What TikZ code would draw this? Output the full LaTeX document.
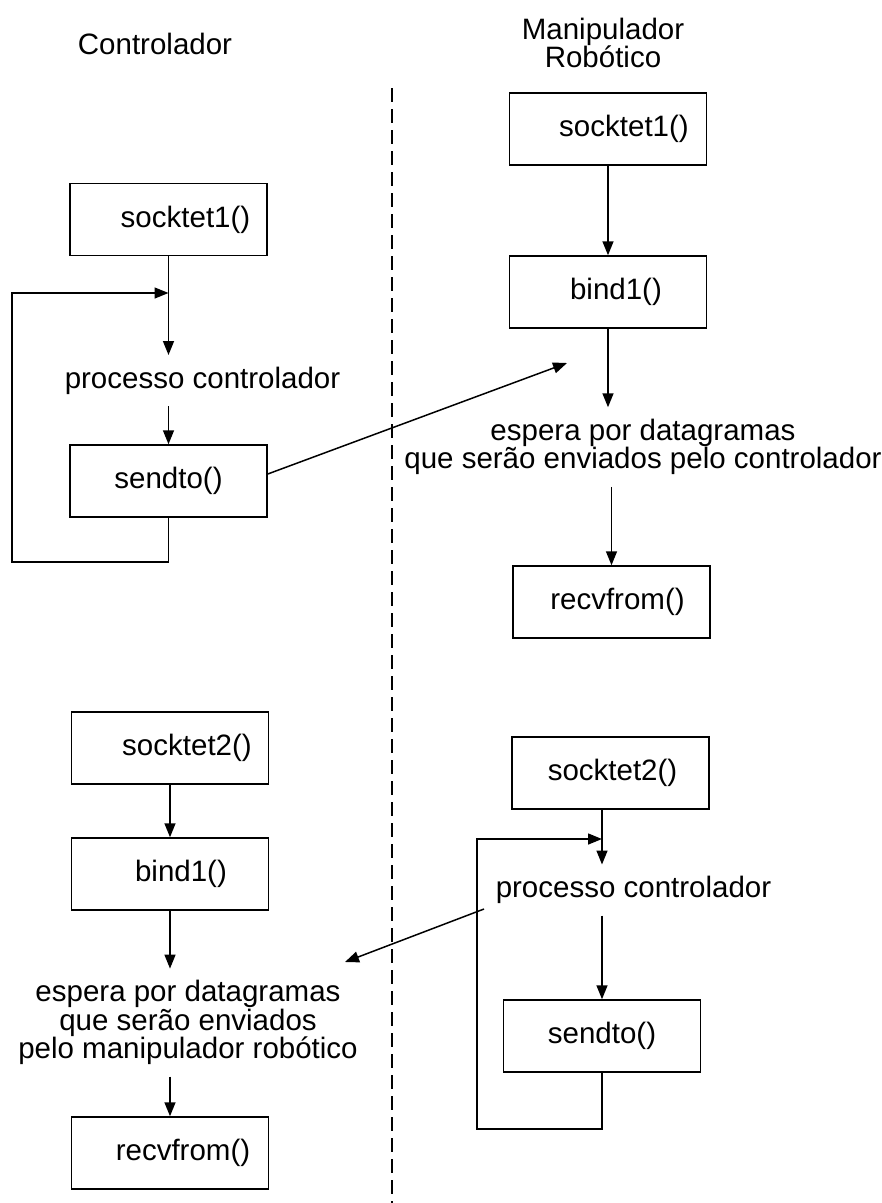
\documentclass[tikz,border=0pt]{standalone}
\usepackage{fontspec}
\setmainfont{Liberation Sans}
\usetikzlibrary{arrows.meta, positioning}
\tikzset{%
	funcbox/.style={
		rectangle,
		draw,
		minimum width=197pt,
		minimum height=72pt,
		inner sep=0pt
	},
	msg/.style={
		inner sep=11pt,
		align=center
	},
}

\begin{document}
\begin{tikzpicture}[
			x=1pt, y=-1pt,
			font=\fontsize{29.5}{28.5}\selectfont,
			line width=1.5pt,
			>={Triangle[length=14pt,width=11pt]}
			]
			\useasboundingbox (0,0) rectangle (882,1203);
			\node (ctrl) at (155,44) {Controlador};
			\node[align=center] (manip) at (603,43) {Manipulador\\Robótico};
			\coordinate (divtop) at (392,88);
			\coordinate (divbot) at (392,1203);
			\draw[dash pattern=on 14pt off 7pt] (divtop) -- (divbot);

			\node[funcbox] (sockL) at (168.5,219.5) {\hspace*{34pt}socktet1()};
			\node[msg] (procL) at (202.5,380.5) {processo controlador};
			\node[funcbox] (sendL) at (168.5,481) {sendto()};
			\coordinate (loopL) at (12,293);
			\coordinate (cornerL) at (12,562);
			\coordinate (tipR) at (567,363);
			\draw[->] (sockL.south) -- (sockL.south |- procL.north);
			\draw[->] (sendL.north |- procL.south) -- (sendL.north);
			\draw[->] (sendL.south) |- (cornerL) -- (loopL) -- (sockL.south |- loopL);
			\draw[->] ([yshift=7pt]sendL.east) -- (tipR);

			\node[funcbox] (sockR) at (608,129) {\hspace*{32pt}socktet1()};
			\node[funcbox] (bindR) at (608,292) {\hspace*{16pt}bind1()};
			\node[msg] (waitR) at (643,447) {espera por datagramas\\que serão enviados pelo controlador};
			\node[funcbox] (recvR) at (611.5,602) {\hspace*{12pt}recvfrom()};
			\draw[->] (sockR.south) -- (bindR.north);
			\draw[->] (bindR.south) -- (bindR.south |- waitR.north);
			\draw[->] (recvR.north |- waitR.south) -- (recvR.north);

			\node[funcbox] (sock2R) at (610.5,773) {\hspace*{4pt}socktet2()};
			\node[msg] (procR) at (633.5,890) {processo controlador};
			\node[funcbox] (sendR) at (602,1036) {sendto()};
			\coordinate (loopR) at (477,839);
			\coordinate (cornerR) at (477,1129);
			\coordinate (tipL) at (345,962);
			\draw[->] (sendR.north |- sock2R.south) -- (sendR.north |- procR.north);
			\draw[->] (sendR.north |- procR.south) -- (sendR.north);
			\draw[->] (sendR.south) |- (cornerR) -- (loopR) -- (sendR.north |- loopR);
			\draw[->] ([yshift=-19pt]procR.west) -- (tipL);

			\node[funcbox] (sock2L) at (170,748) {\hspace*{34pt}socktet2()};
			\node[funcbox] (bindL) at (170,874) {\hspace*{22pt}bind1()};
			\node[msg] (waitL) at (188,1022.6) {espera por datagramas\\que serão enviados\hspace*{20pt}\\pelo manipulador robótico};
			\node[funcbox] (recvL) at (170,1153) {\hspace*{26pt}recvfrom()};
			\draw[->] (sock2L.south) -- (bindL.north);
			\draw[->] (bindL.south) -- (bindL.south |- waitL.north);
			\draw[->] (recvL.north |- waitL.south) -- (recvL.north);
		\end{tikzpicture}
\end{document}
